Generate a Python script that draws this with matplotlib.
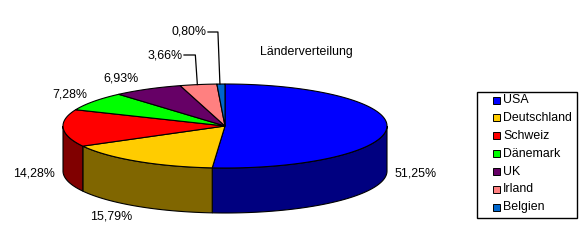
import numpy as np
import matplotlib
matplotlib.use("Agg")
import matplotlib.pyplot as plt
from matplotlib.patches import Polygon, Rectangle

plt.rcParams['font.family'] = ['Liberation Sans', 'DejaVu Sans']

# data
countries = ["USA", "Deutschland", "Schweiz", "Dänemark", "UK", "Irland", "Belgien"]
shares = [51.25, 15.79, 14.28, 7.28, 6.93, 3.66, 0.80]
labels = ["51,25%", "15,79%", "14,28%", "7,28%", "6,93%", "3,66%", "0,80%"]
top_colors = ["#0000FF", "#FFCC00", "#FF0000", "#00FF00", "#660066", "#FF8080", "#0066CC"]
side_colors = ["#000080", "#806600", "#800000", "#008000", "#330033", "#804040", "#003366"]
title = "Länderverteilung"

# geometry of the 3d pie, in pixels
W, H = 584, 242
cx, cy = 225, 126
a, b = 162, 42
depth = 45
fs = 8.9


def ell(theta_deg):
    t = np.radians(theta_deg)
    return cx + a * np.sin(t), cy - b * np.cos(t)


fig = plt.figure(figsize=(W / 100, H / 100), dpi=100)
ax = fig.add_axes([0, 0, 1, 1])
ax.set_xlim(0, W)
ax.set_ylim(H, 0)
ax.axis("off")

bounds = np.concatenate([[0], np.cumsum(shares) / sum(shares) * 360])

# outer side walls (front half only)
for i in range(len(shares)):
    t0, t1 = max(bounds[i], 90), min(bounds[i + 1], 270)
    if t1 <= t0:
        continue
    th = np.linspace(t0, t1, 80)
    xs, ys = ell(th)
    pts = np.column_stack([np.r_[xs, xs[::-1]], np.r_[ys, ys[::-1] + depth]])
    ax.add_patch(Polygon(pts, closed=True, facecolor=side_colors[i],
                         edgecolor="black", lw=0.8))

# top faces
for i in range(len(shares)):
    th = np.linspace(bounds[i], bounds[i + 1], 120)
    xs, ys = ell(th)
    pts = np.column_stack([np.r_[cx, xs], np.r_[cy, ys]])
    ax.add_patch(Polygon(pts, closed=True, facecolor=top_colors[i],
                         edgecolor="black", lw=0.8))

# percentage labels
leader = {5: (183, 55), 6: (207, 32)}
for i, lab in enumerate(labels):
    mid = (bounds[i] + bounds[i + 1]) / 2
    s, c = np.sin(np.radians(mid)), np.cos(np.radians(mid))
    if i in leader:
        lx, ly = leader[i]
        px, py = ell(mid)
        ex = px - 3
        ax.plot([lx + 1, ex, px - 1], [ly, ly, py], color="black", lw=0.9)
        ax.text(lx, ly, lab, ha="right", va="center", fontsize=fs)
        continue
    x = cx + (a + 8) * s
    if 0 < c and s < 0 and mid > 320:
        x -= 5
    y = cy - (b + 12) * c + (depth if c < 0 else 0)
    ax.text(x, y, lab, ha="left" if s > 0 else "right", va="center", fontsize=fs)

ax.text(260, 52, title, ha="left", va="center", fontsize=fs)

# legend
ax.add_patch(Rectangle((477, 92), 100, 126, facecolor="white", edgecolor="black", lw=1))
for i, name in enumerate(countries):
    yy = 100 + i * 17.9
    ax.add_patch(Rectangle((493, yy - 3.5), 7, 7, facecolor=top_colors[i],
                           edgecolor="black", lw=0.7))
    ax.text(503, yy, name, ha="left", va="center", fontsize=fs)

fig.savefig("out.png", dpi=100)
